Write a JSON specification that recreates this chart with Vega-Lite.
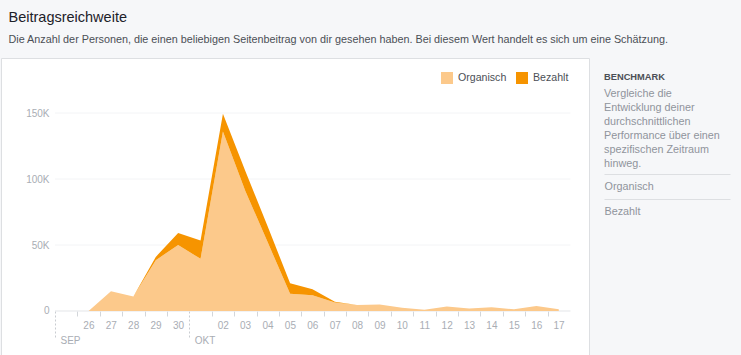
{
  "$schema": "https://vega.github.io/schema/vega-lite/v6.json",
  "background": "#f6f7f9",
  "padding": {"left": 0, "top": 10, "right": 14, "bottom": 0},
  "spacing": 14,
  "config": {
    "view": {"stroke": null},
    "font": "Liberation Sans"
  },
  "title": {
    "text": "Beitragsreichweite",
    "subtitle": "Die Anzahl der Personen, die einen beliebigen Seitenbeitrag von dir gesehen haben. Bei diesem Wert handelt es sich um eine Schätzung.",
    "anchor": "start",
    "dx": 8,
    "fontSize": 14.5,
    "fontWeight": "normal",
    "color": "#1d2129",
    "font": "Liberation Sans",
    "subtitleFont": "Liberation Sans",
    "subtitleFontSize": 10.8,
    "subtitleColor": "#4b4f56",
    "subtitlePadding": 8,
    "offset": 12
  },
  "hconcat": [
    {
      "width": 588,
      "height": 299,
      "view": {"fill": "white", "stroke": "#dddfe2"},
      "data": {
        "values": [
          {"date": "2018-09-25", "Organisch": 0, "Bezahlt": 0},
          {"date": "2018-09-26", "Organisch": 0, "Bezahlt": 0},
          {"date": "2018-09-27", "Organisch": 15000, "Bezahlt": 0},
          {"date": "2018-09-28", "Organisch": 11000, "Bezahlt": 0},
          {"date": "2018-09-29", "Organisch": 38500, "Bezahlt": 2500},
          {"date": "2018-09-30", "Organisch": 50000, "Bezahlt": 9000},
          {"date": "2018-10-01", "Organisch": 39500, "Bezahlt": 14000},
          {"date": "2018-10-02", "Organisch": 136000, "Bezahlt": 13500},
          {"date": "2018-10-03", "Organisch": 91000, "Bezahlt": 15000},
          {"date": "2018-10-04", "Organisch": 52000, "Bezahlt": 12000},
          {"date": "2018-10-05", "Organisch": 13000, "Bezahlt": 8000},
          {"date": "2018-10-06", "Organisch": 12000, "Bezahlt": 4500},
          {"date": "2018-10-07", "Organisch": 6500, "Bezahlt": 500},
          {"date": "2018-10-08", "Organisch": 4500, "Bezahlt": 0},
          {"date": "2018-10-09", "Organisch": 5000, "Bezahlt": 0},
          {"date": "2018-10-10", "Organisch": 2500, "Bezahlt": 0},
          {"date": "2018-10-11", "Organisch": 1000, "Bezahlt": 0},
          {"date": "2018-10-12", "Organisch": 3500, "Bezahlt": 0},
          {"date": "2018-10-13", "Organisch": 1800, "Bezahlt": 0},
          {"date": "2018-10-14", "Organisch": 2800, "Bezahlt": 0},
          {"date": "2018-10-15", "Organisch": 1300, "Bezahlt": 0},
          {"date": "2018-10-16", "Organisch": 3800, "Bezahlt": 0},
          {"date": "2018-10-17", "Organisch": 1300, "Bezahlt": 0}
        ]
      },
      "layer": [
        {
          "data": {"values": [{"value": 0}, {"value": 50000}, {"value": 100000}, {"value": 150000}]},
          "mark": {"type": "rule", "strokeWidth": 1},
          "encoding": {
            "x": {
              "datum": {"year": 2018, "month": 9, "date": 24, "hours": 12, "utc": true},
              "type": "temporal",
              "axis": {
                "orient": "bottom",
                "offset": -46,
                "values": [1537790400000, 1538308800000],
                "domain": false,
                "grid": false,
                "ticks": true,
                "tickSize": 26,
                "tickDash": [2, 2],
                "tickColor": "#c9ccd1",
                "labelExpr": "time(datum.value) < 1538000000000 ? 'SEP' : 'OKT'",
                "labelAlign": "left",
                "labelBaseline": "top",
                "labelOffset": 5,
                "labelPadding": -2,
                "labelFontSize": 10,
                "labelColor": "#a9adb4",
                "labelFlush": false,
                "labelOverlap": false,
                "title": null
              }
            },
            "x2": {"datum": {"year": 2018, "month": 10, "date": 17, "hours": 12, "minutes": 30, "utc": true}},
            "y": {
              "field": "value",
              "type": "quantitative",
              "scale": {"domain": [-34850, 191670], "nice": false, "zero": false},
              "axis": {
                "orient": "left",
                "offset": -55,
                "values": [0, 50000, 100000, 150000],
                "domain": false,
                "ticks": false,
                "tickSize": 0,
                "grid": false,
                "labelPadding": 7,
                "labelFontSize": 10,
                "labelColor": "#a9adb4",
                "labelExpr": "datum.value == 0 ? '0' : (datum.value / 1000) + 'K'",
                "title": null
              }
            },
            "color": {"condition": {"test": "datum.value == 0", "value": "#e3e5e8"}, "value": "#f3f4f6"}
          }
        },
        {
          "transform": [{"fold": ["Organisch", "Bezahlt"], "as": ["key", "amount"]}],
          "mark": {"type": "area", "interpolate": "linear", "opacity": 1},
          "encoding": {
            "x": {
              "field": "date",
              "type": "temporal",
              "scale": {
                "type": "utc",
                "nice": false,
                "domain": [
                  {"year": 2018, "month": 9, "date": 22, "hours": 2, "minutes": 7, "utc": true},
                  {"year": 2018, "month": 10, "date": 18, "hours": 8, "minutes": 23, "utc": true}
                ]
              },
              "axis": {
                "orient": "bottom",
                "offset": -46,
                "values": [1537876800000, 1537963200000, 1538049600000, 1538136000000, 1538222400000, 1538395200000, 1538481600000, 1538568000000, 1538654400000, 1538740800000, 1538827200000, 1538913600000, 1539000000000, 1539086400000, 1539172800000, 1539259200000, 1539345600000, 1539432000000, 1539518400000, 1539604800000, 1539691200000],
                "domain": false,
                "grid": false,
                "ticks": true,
                "tickSize": 5,
                "tickColor": "#d3d6da",
                "labelExpr": "utcFormat(time(datum.value) + 86400000, '%d')",
                "labelOffset": 11,
                "labelPadding": 4,
                "labelFontSize": 10,
                "labelColor": "#a9adb4",
                "labelFlush": false,
                "labelOverlap": false,
                "title": null
              }
            },
            "y": {
              "field": "amount",
              "type": "quantitative",
              "stack": "zero",
              "scale": {"domain": [-34850, 191670], "nice": false, "zero": false},
              "axis": {
                "orient": "left",
                "offset": -55,
                "values": [0, 50000, 100000, 150000],
                "domain": false,
                "ticks": false,
                "tickSize": 0,
                "grid": false,
                "labelPadding": 7,
                "labelFontSize": 10,
                "labelColor": "#a9adb4",
                "labelExpr": "datum.value == 0 ? '0' : (datum.value / 1000) + 'K'",
                "title": null
              }
            },
            "color": {
              "field": "key",
              "type": "nominal",
              "scale": {"domain": ["Organisch", "Bezahlt"], "range": ["#fcc98b", "#f69400"]},
              "legend": {
                "orient": "none",
                "legendX": 440,
                "legendY": 14,
                "direction": "horizontal",
                "title": null,
                "symbolType": "square",
                "symbolSize": 144,
                "symbolStrokeWidth": 0,
                "symbolOpacity": 1,
                "labelFontSize": 10.6,
                "labelColor": "#4b4f56",
                "labelOffset": 5,
                "columnPadding": 9
              }
            },
            "order": {"field": "key", "sort": "descending"}
          }
        }
      ],
      "resolve": {"axis": {"x": "independent"}}
    },
    {
      "spacing": 0,
      "vconcat": [
        {
          "width": 126,
          "height": 116,
          "title": {
            "text": "BENCHMARK",
            "subtitle": ["Vergleiche die", "Entwicklung deiner", "durchschnittlichen", "Performance über einen", "spezifischen Zeitraum", "hinweg."],
            "anchor": "start",
            "font": "Liberation Sans",
            "fontSize": 9.3,
            "fontWeight": "bold",
            "color": "#4b4f56",
            "subtitleFont": "Liberation Sans",
            "subtitleFontSize": 10.8,
            "subtitleColor": "#90949c",
            "subtitleLineHeight": 14,
            "subtitlePadding": 5,
            "offset": -110.5
          },
          "data": {"values": [{}]},
          "mark": {"type": "text"},
          "encoding": {}
        },
        {
          "width": 126,
          "height": 50,
          "data": {"values": [{"name": "Organisch"}, {"name": "Bezahlt"}]},
          "mark": {"type": "bar", "opacity": 0},
          "encoding": {
            "y": {
              "field": "name",
              "type": "nominal",
              "sort": null,
              "scale": {"type": "band", "paddingInner": 0, "paddingOuter": 0},
              "axis": {
                "orient": "left",
                "bandPosition": 0,
                "domain": false,
                "ticks": false,
                "tickSize": 0,
                "grid": true,
                "gridColor": "#dddfe2",
                "labelAlign": "left",
                "labelBaseline": "middle",
                "labelPadding": 0,
                "labelFontSize": 10.8,
                "labelColor": "#90949c",
                "title": null
              }
            }
          }
        }
      ]
    }
  ]
}
